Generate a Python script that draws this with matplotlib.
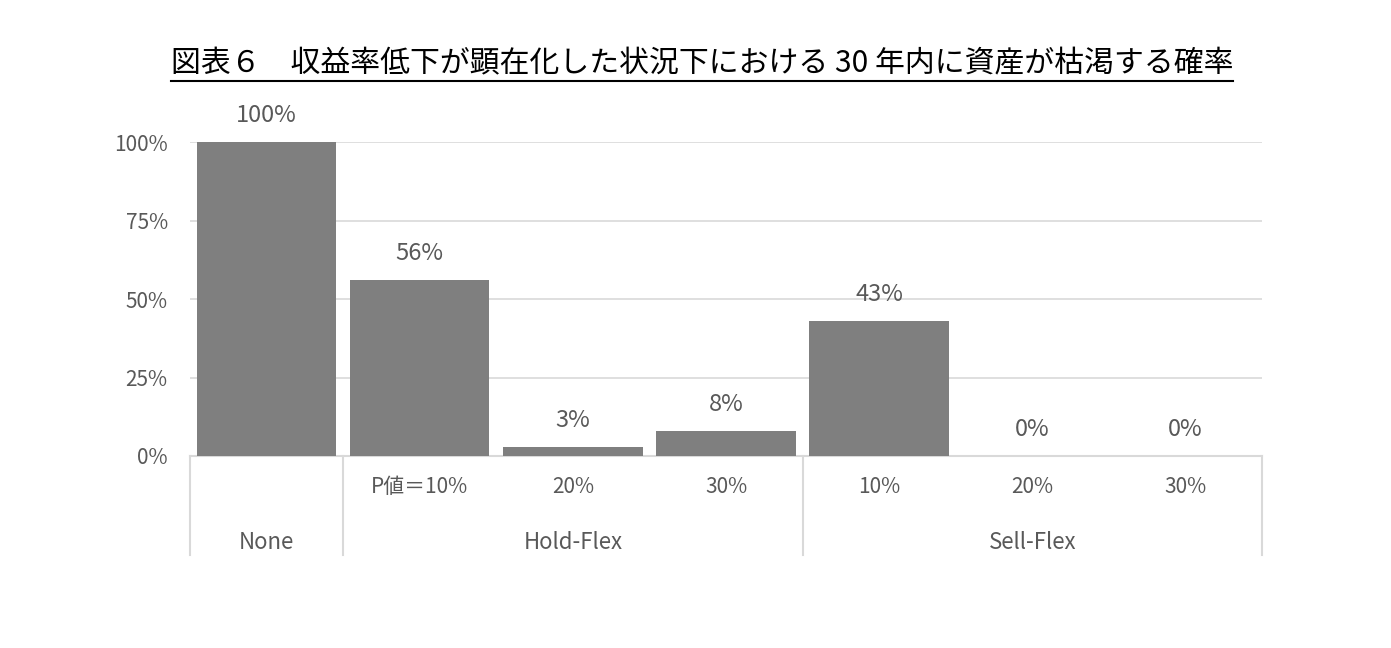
import matplotlib
matplotlib.use("Agg")
import matplotlib.pyplot as plt
from matplotlib.lines import Line2D

plt.rcParams['font.family'] = ['Noto Sans CJK JP', 'DejaVu Sans']

# data
sub_labels = ['', 'P値＝10%', '20%', '30%', '10%', '20%', '30%']
groups = ['None', 'Hold-Flex', 'Sell-Flex']
group_span = [(0, 0), (1, 3), (4, 6)]
values = [100, 56, 3, 8, 43, 0, 0]
title = '図表６　収益率低下が顕在化した状況下における 30 年内に資産が枯渇する確率'

TXT = '#595959'
GRID = '#d9d9d9'

fig = plt.figure(figsize=(13.91, 6.48), dpi=100)
ax = fig.add_axes([190/1391, 192/648, 1072/1391, 314/648])

x = list(range(len(values)))
ax.bar(x, [v/100 for v in values], width=0.91, color='#7f7f7f', zorder=3)
ax.set_xlim(-0.5, len(values)-0.5)
ax.set_ylim(0, 1)
ax.set_yticks([0, .25, .5, .75, 1])
ax.set_yticklabels(['0%', '25%', '50%', '75%', '100%'])
ax.tick_params(axis='y', length=0, pad=16, labelsize=15, labelcolor=TXT)
ax.set_xticks([])
ax.grid(axis='y', color=GRID, lw=1.2, zorder=0)
for s in ['left', 'right', 'top']:
    ax.spines[s].set_visible(False)
ax.spines['bottom'].set_color(GRID)
ax.spines['bottom'].set_linewidth(1.5)

for xi, v in zip(x, values):
    ax.annotate(f'{v}%', (xi, v/100), xytext=(0, 19), textcoords='offset points',
                ha='center', va='center', fontsize=17, color=TXT)

trans = ax.get_xaxis_transform()
for xi, lab in zip(x, sub_labels):
    ax.text(xi, -0.10, lab, transform=trans, ha='center', va='center',
            fontsize=15, color=TXT)
for g, (a, b) in zip(groups, group_span):
    ax.text((a + b)/2, -0.275, g, transform=trans, ha='center', va='center',
            fontsize=16, color=TXT)

for d in [-0.5, 0.5, 3.5, 6.5]:
    ax.add_line(Line2D([d, d], [0, -0.315], transform=trans, color=GRID,
                       lw=1.5, clip_on=False))

t = fig.text(0.5047, 1 - 64/648, title, ha='center', va='center', fontsize=21.5, color='black')
fig.canvas.draw()
bb = t.get_window_extent().transformed(fig.transFigure.inverted())
fig.add_artist(Line2D([bb.x0, bb.x1], [1 - 81/648, 1 - 81/648], color='black', lw=1.5))

fig.savefig('out.png', dpi=100)
